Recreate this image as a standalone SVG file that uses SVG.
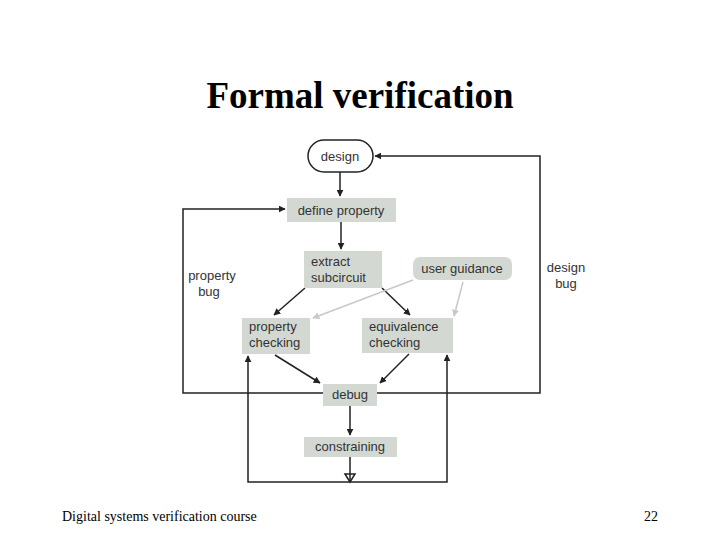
<svg xmlns="http://www.w3.org/2000/svg" width="720" height="540" viewBox="0 0 720 540">
<defs>
<style>
.box{fill:#d3d9d2}
.t{font-family:"Liberation Sans",Arial,sans-serif;font-size:13px;fill:#333}
.c{stroke:#222;stroke-width:1.5;fill:none}
.g{stroke:#c8c8c8;stroke-width:1.5;fill:none}
</style>
<marker id="a" viewBox="0 0 10 10" refX="9" refY="5" markerWidth="7" markerHeight="7" orient="auto" markerUnits="userSpaceOnUse"><path d="M0,0L10,5L0,10z" fill="#222"/></marker>
<marker id="b" viewBox="0 0 10 10" refX="9" refY="5" markerWidth="7" markerHeight="7" orient="auto" markerUnits="userSpaceOnUse"><path d="M0,0L10,5L0,10z" fill="#c8c8c8"/></marker>
</defs>
<rect width="720" height="540" fill="#fff"/>
<text x="360" y="108" text-anchor="middle" font-family="Liberation Serif,serif" font-weight="bold" font-size="37">Formal verification</text>
<text x="62" y="521" font-family="Liberation Serif,serif" font-size="14">Digital systems verification course</text>
<text x="658" y="521" text-anchor="end" font-family="Liberation Serif,serif" font-size="14">22</text>
<g id="connectors">
<path class="c" d="M340,172V196" marker-end="url(#a)"/>
<path class="c" d="M341,222V249" marker-end="url(#a)"/>
<path class="c" d="M305,288L274,315" marker-end="url(#a)"/>
<path class="c" d="M382,288L410,315" marker-end="url(#a)"/>
<path class="g" d="M413,280L313,318" marker-end="url(#b)"/>
<path class="g" d="M463,282L454,316" marker-end="url(#b)"/>
<path class="c" d="M275,355L320,383" marker-end="url(#a)"/>
<path class="c" d="M409,354L380,383" marker-end="url(#a)"/>
<path class="c" d="M350,406V435" marker-end="url(#a)"/>
<path class="c" d="M350,457V482"/>
<path class="c" d="M345,474L350,482L355,474z" fill="#222"/>
<path class="c" d="M323,393H183V209H285" marker-end="url(#a)"/>
<path class="c" d="M377,393H540V156H375" marker-end="url(#a)"/>
<path class="c" d="M350,482H248V356" marker-end="url(#a)"/>
<path class="c" d="M350,482H447V355" marker-end="url(#a)"/>
</g>
<g id="design"><rect x="308" y="140" width="65" height="32" rx="16" fill="#fff" stroke="#222" stroke-width="1.5"/><text class="t" x="340" y="161" text-anchor="middle">design</text></g>
<g id="define"><rect class="box" x="287" y="198" width="109" height="24"/><text class="t" x="341" y="215" text-anchor="middle">define property</text></g>
<g id="extract"><rect class="box" x="304" y="251" width="78" height="37"/><text class="t" x="311" y="266">extract</text><text class="t" x="311" y="282">subcircuit</text></g>
<g id="guidance"><rect class="box" x="413" y="257" width="99" height="23" rx="7"/><text class="t" x="462" y="273" text-anchor="middle">user guidance</text></g>
<g id="propcheck"><rect class="box" x="242" y="318" width="68" height="36"/><text class="t" x="249" y="331">property</text><text class="t" x="249" y="347">checking</text></g>
<g id="equiv"><rect class="box" x="362" y="318" width="91" height="35"/><text class="t" x="369" y="331">equivalence</text><text class="t" x="369" y="347">checking</text></g>
<g id="debug"><rect class="box" x="323" y="384" width="54" height="22"/><text class="t" x="350" y="399" text-anchor="middle">debug</text></g>
<g id="constraining"><rect class="box" x="304" y="437" width="93" height="20"/><text class="t" x="350" y="451" text-anchor="middle">constraining</text></g>
<g id="labels"><text class="t" x="212" y="280" text-anchor="middle">property</text><text class="t" x="209" y="296" text-anchor="middle">bug</text><text class="t" x="566" y="272" text-anchor="middle">design</text><text class="t" x="566" y="288" text-anchor="middle">bug</text></g>
</svg>
